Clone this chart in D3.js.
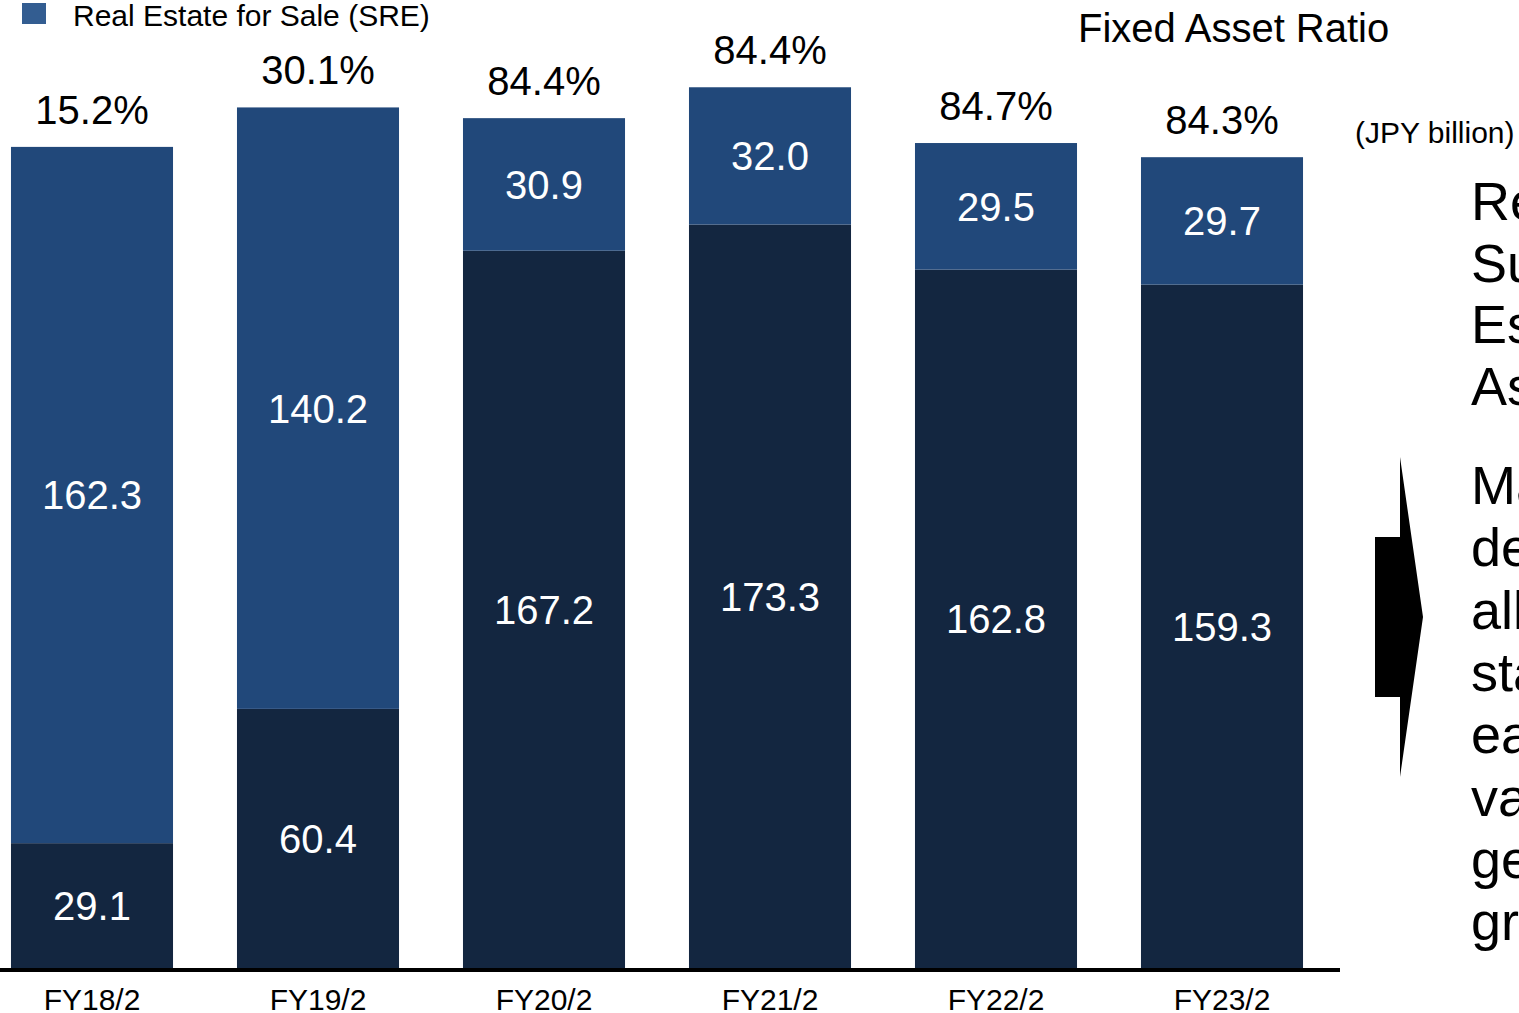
<!DOCTYPE html>
<html>
<head>
<meta charset="utf-8">
<script src="https://cdn.jsdelivr.net/npm/d3@7"></script>
<style>
    html, body { margin: 0; padding: 0; background: #fff; overflow: hidden; }
    svg { display: block; font-family: "Liberation Sans", Arial, sans-serif; }
</style>
</head>
<body>
<svg id="chart"></svg>
<script>
const categories = ["FY18/2", "FY19/2", "FY20/2", "FY21/2", "FY22/2", "FY23/2"];
const fixedAssets = [29.1, 60.4, 167.2, 173.3, 162.8, 159.3];
const realEstateForSale = [162.3, 140.2, 30.9, 32.0, 29.5, 29.7];
const fixedAssetRatio = ["15.2%", "30.1%", "84.4%", "84.4%", "84.7%", "84.3%"];

const sideLines1 = ["Real", "Sub", "Estate", "Assets"];
const sideLines2 = ["Make", "decisions", "allowing", "stable", "earnings", "value", "generation", "growth"];

const COLORS = {
    "fixed": "#132640",
    "sre": "#21487a",
    "legend": "#335d91",
}

const W = 1519, H = 1013;
const baseY = 968;

let svg = d3.select("#chart").attr("width", W).attr("height", H);

let scaleX = d3.scaleBand()
    .domain(categories)
    .range([-21, 1335])
    .paddingInner(0.283)
    .paddingOuter(0.1415);

let scaleY = d3.scaleLinear()
    .domain([0, 200])
    .range([baseY, baseY - 858]);

let data = categories.map((c, i) => ({
    label: c,
    fixed: fixedAssets[i],
    sre: realEstateForSale[i],
    ratio: fixedAssetRatio[i]
}));

let stack = d3.stack().keys(["fixed", "sre"])(data);

let g = svg.append("g");

stack.forEach(layer => {
    g.selectAll(".bar-" + layer.key)
        .data(layer)
        .enter()
        .append("rect")
        .attr("x", d => scaleX(d.data.label))
        .attr("width", scaleX.bandwidth())
        .attr("y", d => scaleY(d[1]))
        .attr("height", d => scaleY(d[0]) - scaleY(d[1]))
        .style("fill", COLORS[layer.key]);

    g.selectAll(".lbl-" + layer.key)
        .data(layer)
        .enter()
        .append("text")
        .attr("x", d => scaleX(d.data.label) + scaleX.bandwidth() / 2)
        .attr("y", d => (scaleY(d[0]) + scaleY(d[1])) / 2)
        .attr("dy", "0.36em")
        .attr("text-anchor", "middle")
        .style("fill", "#fff")
        .style("font-size", "40px")
        .text(d => d.data[layer.key].toFixed(1));
});

// ratio labels above the bars
g.selectAll(".ratio")
    .data(data)
    .enter()
    .append("text")
    .attr("x", d => scaleX(d.label) + scaleX.bandwidth() / 2)
    .attr("y", d => scaleY(d.fixed + d.sre) - 23)
    .attr("text-anchor", "middle")
    .style("fill", "#000")
    .style("font-size", "40px")
    .text(d => d.ratio);

// axis
let axisX = d3.axisBottom(scaleX).tickSize(0).tickPadding(21);
let ax = svg.append("g")
    .attr("transform", `translate(0, ${baseY})`)
    .call(axisX);
ax.select(".domain").remove();
ax.selectAll("text")
    .style("font-size", "30px")
    .style("font-family", "Liberation Sans, Arial, sans-serif")
    .style("fill", "#000");

svg.append("line")
    .attr("x1", 0).attr("x2", 1340)
    .attr("y1", baseY + 2).attr("y2", baseY + 2)
    .style("stroke", "#000")
    .style("stroke-width", 4);

// legend
svg.append("rect")
    .attr("x", 22).attr("y", 3)
    .attr("width", 24).attr("height", 21)
    .style("fill", COLORS.legend);
svg.append("text")
    .attr("x", 73).attr("y", 26)
    .style("font-size", "30px")
    .text("Real Estate for Sale (SRE)");

svg.append("text")
    .attr("x", 1078).attr("y", 42)
    .style("font-size", "40px")
    .text("Fixed Asset Ratio");

svg.append("text")
    .attr("x", 1355).attr("y", 143)
    .style("font-size", "30px")
    .text("(JPY billion)");

// arrow
svg.append("path")
    .attr("d", "M1375,537 L1400,537 L1400,457 L1423,617 L1400,777 L1400,697 L1375,697 Z")
    .style("fill", "#000");

// side text (cut by the window edge, as in the original slide)
svg.selectAll(".side1")
    .data(sideLines1)
    .enter()
    .append("text")
    .attr("x", 1471)
    .attr("y", (d, i) => 220 + i * 61.7)
    .style("font-size", "54px")
    .text(d => d);

svg.selectAll(".side2")
    .data(sideLines2)
    .enter()
    .append("text")
    .attr("x", 1471)
    .attr("y", (d, i) => 504 + i * 62.3)
    .style("font-size", "54px")
    .text(d => d);
</script>
</body>
</html>
